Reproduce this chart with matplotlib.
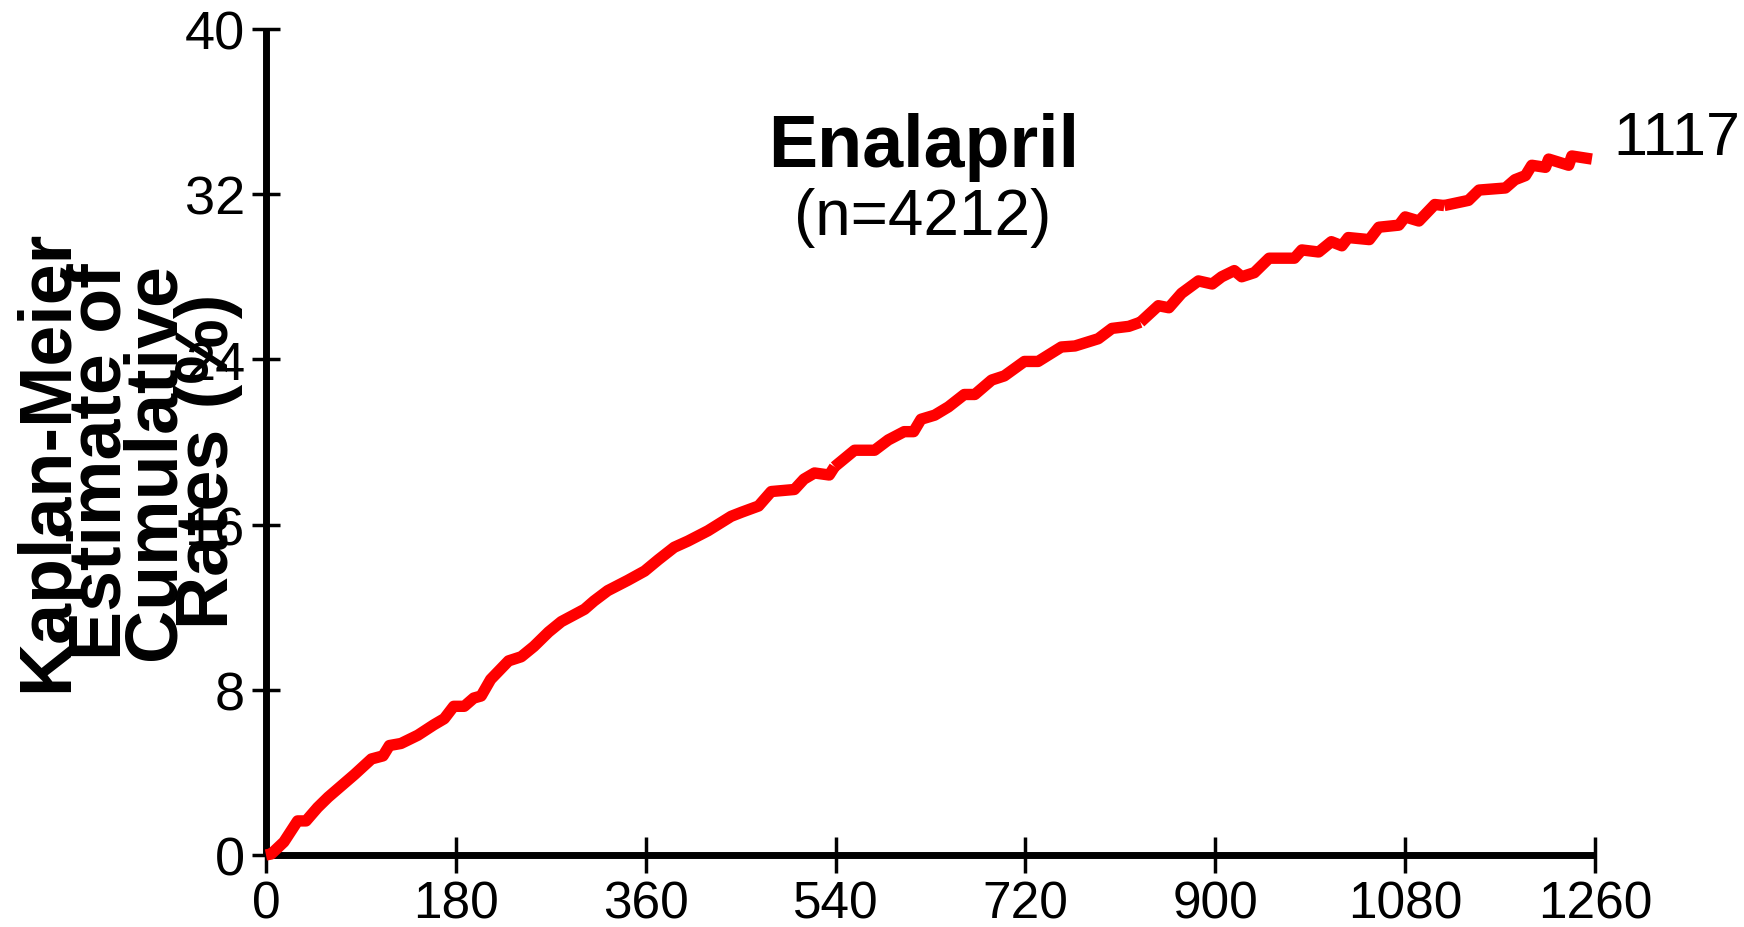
import matplotlib
matplotlib.use("Agg")
import matplotlib.pyplot as plt

# ---- data ----
days = [0, 5, 17, 30, 38, 49, 59, 84, 100, 111, 117, 128, 144, 159, 169, 178, 188,
        197, 204, 213, 230, 242, 254, 268, 280, 302, 311, 324, 343, 359, 372, 387,
        400, 419, 441, 451, 467, 479, 501, 510, 520, 534, 539,
        558, 577, 590, 605, 614, 621, 634, 647, 662, 672, 688, 700, 719, 732, 754,
        767, 789, 802, 818, 829,
        846, 856, 868, 884, 897, 906, 918, 925, 937, 951, 975, 982, 998, 1010,
        1020, 1026, 1046, 1055, 1074, 1080, 1093, 1108, 1117,
        1140, 1150, 1175, 1184, 1194, 1200, 1213, 1216, 1235, 1238, 1257]
rate = [0.0, 0.05, 0.63, 1.65, 1.65, 2.3, 2.8, 3.9, 4.65, 4.8, 5.3, 5.4, 5.8, 6.3,
        6.6, 7.2, 7.2, 7.6, 7.7, 8.5, 9.4, 9.6, 10.1, 10.8, 11.3, 11.9, 12.3, 12.8,
        13.3, 13.75, 14.3, 14.9, 15.2, 15.7, 16.4, 16.6, 16.9, 17.6, 17.7, 18.2,
        18.5, 18.4, 18.8,
        19.6, 19.6, 20.1, 20.5, 20.5, 21.1, 21.3, 21.7, 22.3, 22.3, 23.0, 23.2,
        23.9, 23.9, 24.6, 24.65, 25.0, 25.5, 25.6, 25.8,
        26.6, 26.5, 27.2, 27.8, 27.65, 28.0, 28.3, 28.0, 28.2, 28.9, 28.9, 29.3,
        29.2, 29.7, 29.5, 29.9, 29.8, 30.4, 30.5, 30.9, 30.7, 31.5, 31.45,
        31.7, 32.2, 32.3, 32.7, 32.9, 33.4, 33.3, 33.7, 33.4, 33.85, 33.7]
breaks = [539, 829, 1117]          # days where the drawn curve shows small gaps
xticks = [0, 180, 360, 540, 720, 900, 1080, 1260]
yticks = [0, 8, 16, 24, 32, 40]
title = "Enalapril"
subtitle = "(n=4212)"
end_label = "1117"
ylabel = "Kaplan-Meier\nEstimate of\nCumulative\nRates (%)"

plt.rcParams['font.family'] = ['Liberation Sans', 'DejaVu Sans']

fig = plt.figure(figsize=(17.44, 9.28), dpi=100)
ax = fig.add_axes([0.1525, 0.0776, 0.9146 - 0.1525, 0.9677 - 0.0776])

# draw curve in segments separated at the break days
bounds = [0] + [days.index(b) for b in breaks] + [len(days) - 1]
for i0, i1 in zip(bounds[:-1], bounds[1:]):
    ax.plot(days[i0:i1 + 1], rate[i0:i1 + 1], color='#ff0000', lw=8.2,
            solid_capstyle='butt', solid_joinstyle='round', clip_on=False, zorder=3)

ax.set_xlim(0, 1260)
ax.set_ylim(0, 40)
for s in ['top', 'right']:
    ax.spines[s].set_visible(False)
for s in ['left', 'bottom']:
    ax.spines[s].set_linewidth(5)
    ax.spines[s].set_capstyle('butt')

ax.set_xticks(xticks)
ax.set_yticks(yticks)
ax.set_xticklabels([str(t) for t in xticks], family=['Liberation Sans Narrow', 'Liberation Sans'], fontsize=37)
ax.set_yticklabels([str(t) for t in yticks], fontsize=39)
ax.tick_params(axis='x', direction='inout', length=26, width=2.5, pad=5)
ax.tick_params(axis='y', direction='inout', length=20, width=2.5, pad=5)

ax.text(624, 34.3, title, ha='center', va='center', fontsize=53, fontweight='bold')
ax.text(623, 30.9, subtitle, ha='center', va='center', fontsize=46)
ax.text(1277, 34.7, end_label, ha='left', va='center', fontsize=44, clip_on=False)

fig.text(0.0734, 0.503, ylabel, rotation=90, ha='center', va='center',
         fontsize=53, fontweight='bold', linespacing=0.72, multialignment='center')

fig.savefig('out.png', dpi=100)
